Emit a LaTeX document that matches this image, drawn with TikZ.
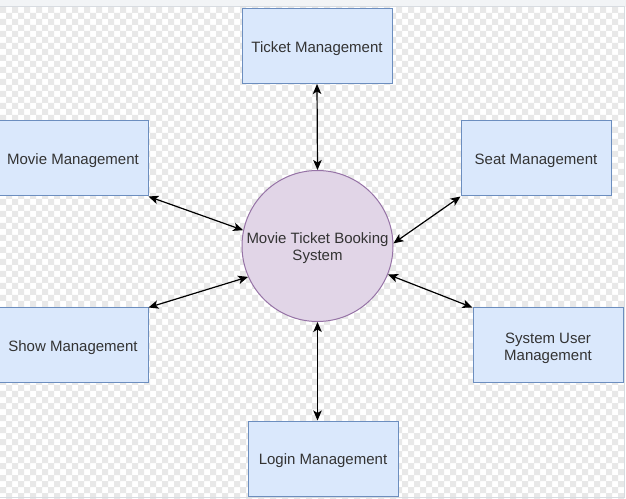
\documentclass[tikz,border=0pt]{standalone}
\usepackage{fontspec}
\setmainfont{Liberation Sans}
\usetikzlibrary{calc}
\usetikzlibrary{arrows.meta}
\definecolor{boxfill}{HTML}{DAE8FC}
\definecolor{boxline}{HTML}{6C8EBF}
\definecolor{hubfill}{HTML}{E1D5E7}
\definecolor{hubline}{HTML}{9673A6}
\definecolor{labeltext}{HTML}{333333}
\definecolor{checkgray}{HTML}{E8E8E8}
\definecolor{bandgray}{HTML}{F2F4F6}
\definecolor{framegray}{HTML}{D8DCE1}
\tikzset{
    mgmtbox/.style = {draw = boxline, fill = boxfill, line width = 1pt,
        minimum width = 150pt, minimum height = 75pt, inner sep = 0pt,
        align = center, text = labeltext,
        font = \fontsize{15}{17}\selectfont,
        execute at begin node = \rule{0pt}{16pt}},
    twoline/.style = {execute at begin node = \rule{0pt}{33pt}},
    hubcircle/.style = {circle, draw = hubline, fill = hubfill, line width = 1pt,
        minimum size = 151pt, inner sep = 0pt, align = center, text = labeltext,
        font = \fontsize{15}{17}\selectfont},
    link/.style = {<->, black, line width = 1.2pt},
    >={Stealth[length = 10pt, width = 8.5pt, inset = 2.5pt]}
}

\begin{document}
\begin{tikzpicture}[x = 1pt, y = 1pt]
            \useasboundingbox (0, 0) rectangle (626, 498);

            % transparent canvas
            \fill [white] (0, 0) rectangle (626, 498);
            \begin{scope}
                \clip (0, 0) rectangle (624, 491);
                \fill [checkgray] \foreach \x in {0, 12, ..., 624} {
                    \foreach \y in {491, 479, ..., -1} {
                        (\x, \y - 6) rectangle (\x + 6, \y)
                        (\x + 6, \y - 12) rectangle (\x + 12, \y - 6)
                    }
                };
            \end{scope}
            \fill [bandgray] (0, 491) rectangle (626, 498);
            \draw [framegray, line width = 1pt] (0, 491) -- (624, 491) -- (624, 1) -- (0, 1);

            \node [hubcircle, twoline] (booking) at (317.5, 252) {Movie Ticket Booking\\System};

            \node [mgmtbox] (ticket) at (317, 452) {Ticket Management};
            \node [mgmtbox] (movie) at (73, 339.5) {Movie Management};
            \node [mgmtbox] (seat) at (536, 339.5) {Seat Management};
            \node [mgmtbox] (show) at (73, 152.5) {Show Management};
            \node [mgmtbox, twoline] (sysuser) at (548, 152.5) {System User\\Management};
            \node [mgmtbox] (login) at (323, 39.5) {Login Management};

            \coordinate (T) at (booking.south |- login.north);

            \draw [link] (ticket.south) -- (booking.north);
            \draw [link] (movie.south east) -- (booking.168);
            \draw [link] (seat.south west) -- (booking.2);
            \draw [link] (show.north east) -- (booking.204);
            \draw [link] (sysuser.north west) -- (booking.-22);
            \draw [link] (booking.south) -- (T);
        \end{tikzpicture}
\end{document}
